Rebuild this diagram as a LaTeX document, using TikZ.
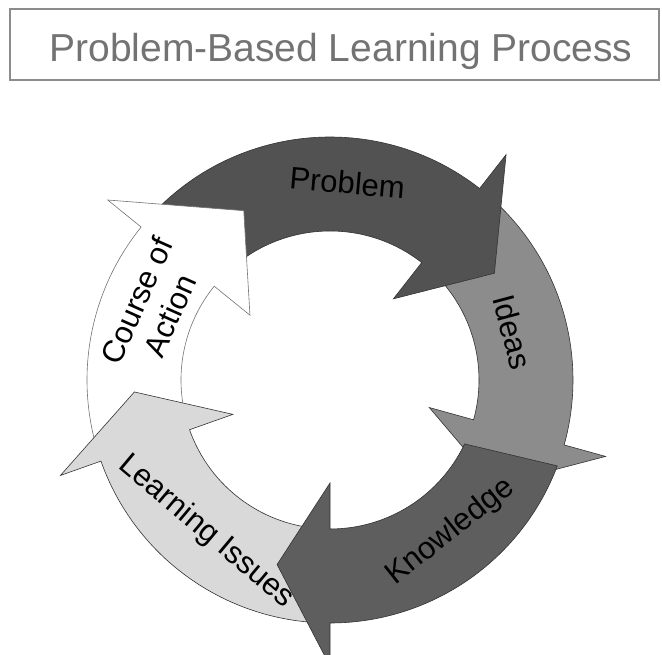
\documentclass[tikz,border=0pt]{standalone}
\usepackage{fontspec}
\setmainfont{Liberation Sans}

\begin{document}
\begin{tikzpicture}[
  x=1pt, y=1pt,
  mybox/.style={
     draw=black!45,
     line width=2pt},
  mytitle/.style={
     font=\fontsize{39}{44}\selectfont,
     text=black!55,
     inner sep=0pt},
  myband/.style={
     draw=black!80,
     line width=0.6pt,
     line join=miter},
  mylabel/.style={
     font=\fontsize{31}{36}\selectfont,
     text=black,
     inner sep=0pt,
     align=center}
  ]
  \useasboundingbox (0,0) rectangle (662,655);

  % title
  \draw[mybox] (10,575) rectangle (659,646);
  \node[mytitle, anchor=base] (title) at (341,593) {Problem-Based Learning Process};

  % cycle of arrows
  \begin{scope}[shift={(330,275)}]
  \coordinate (c) at (0,0);

  % ideas
  \draw[myband, fill=black!45] (48:243) arc[start angle=48, end angle=-15.5, radius=243]
    -- (-15.5:286) -- (-32.5:196) -- (-15.5:103) -- (-15.5:149)
    arc[start angle=-15.5, end angle=48, radius=149] -- cycle;

  % problem
  \draw[myband, fill=black!68] (135:243) arc[start angle=135, end angle=52, radius=243]
    -- (52:286) -- (33:196) -- (52:103) -- (52:149)
    arc[start angle=52, end angle=135, radius=149] -- cycle;

  % course of action
  \draw[myband, draw=black!55, fill=white] (196:243) arc[start angle=196, end angle=141, radius=243]
    -- (141:286) -- (117:190) -- (141:103) -- (141:149)
    arc[start angle=141, end angle=196, radius=149] -- cycle;

  % learning issues
  \draw[myband, fill=black!15] (268:243) arc[start angle=268, end angle=199.5, radius=243]
    -- (199.5:286) -- (183.5:196) -- (199.5:103) -- (199.5:149)
    arc[start angle=199.5, end angle=268, radius=149] -- cycle;

  % knowledge
  \draw[myband, fill=black!63] (-20.7:243) arc[start angle=-20.7, end angle=-90, radius=243]
    -- (-90:286) -- (-106:192) -- (-90:103) -- (-90:149)
    arc[start angle=-90, end angle=-25.4, radius=149] -- cycle;

  % labels
  \node[mylabel, rotate=-5]   (problem)   at (85:198)    {Problem};
  \node[mylabel, rotate=-75]  (ideas)     at (14.7:189)  {Ideas};
  \node[mylabel, rotate=38.5] (knowledge) at (-51.5:194) {Knowledge};
  \node[mylabel, rotate=-40]  (issues)    at (230.8:196) {Learning Issues};
  \node[mylabel, rotate=66]   (action)    at (157.9:191) {Course of\\Action};
  \end{scope}

\end{tikzpicture}
\end{document}
